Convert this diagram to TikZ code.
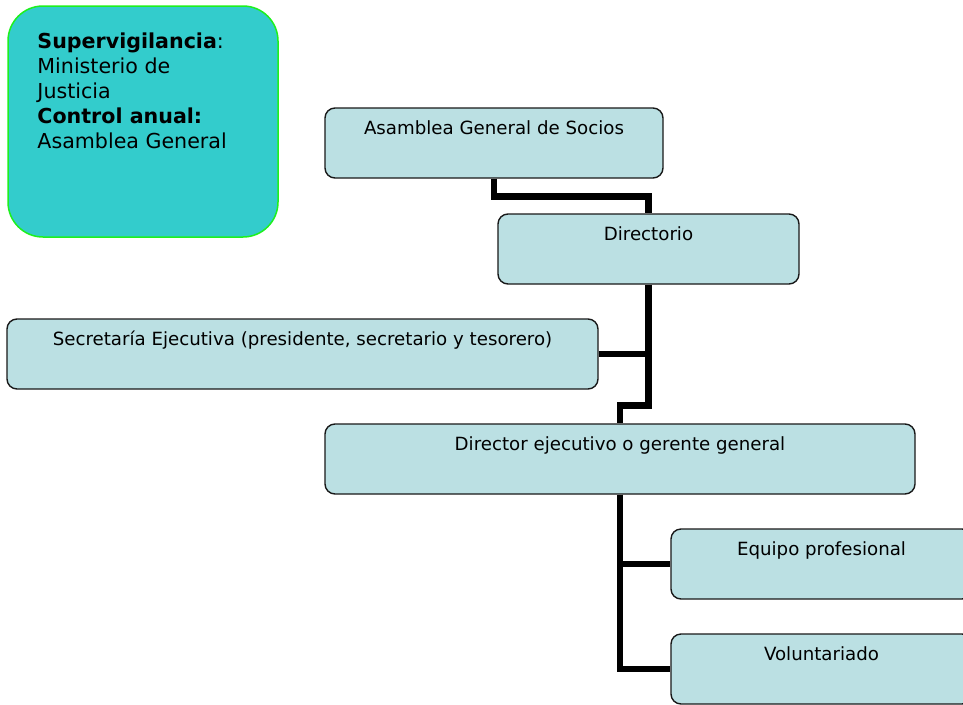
\documentclass[tikz,border=0pt]{standalone}
\usepackage{fontspec}
\setmainfont{DejaVu Sans}
\definecolor{boxfill}{RGB}{187,224,227}
\definecolor{notefill}{RGB}{51,204,204}
\definecolor{noteline}{RGB}{30,240,30}
\begin{document}
\begin{tikzpicture}[x=1pt,y=-1pt,
  orgbox/.style={draw=black!90, line width=1.4pt, fill=boxfill, rounded corners=10pt,
    inner sep=0pt, minimum height=70pt},
  txt/.style={anchor=base, yshift=-27pt, inner sep=0pt, font=\fontsize{18.2}{21}\selectfont},
  conn/.style={draw=black, line width=6.5pt}]
\clip (0,0) rectangle (963,704);
\fill[white] (0,0) rectangle (963,704);

\node[draw=noteline, line width=1.5pt, fill=notefill, rounded corners=35pt,
  minimum width=270pt, minimum height=231pt, inner sep=0pt,
  label={[anchor=north west, align=left, inner sep=0pt, xshift=30pt, yshift=-27pt,
    font=\fontsize{20.6}{25.2}\selectfont]north west:{\textbf{Supervigilancia}:\\Ministerio de\\Justicia\\\textbf{Control anual:}\\Asamblea General}}]
  (note) at (143,121.5) {};

\node[orgbox, minimum width=338pt, label={[txt]north:Asamblea General de Socios}] (asam) at (494,143) {};
\node[orgbox, minimum width=301pt, label={[txt]north:Directorio}] (dir) at (648.5,249) {};
\node[orgbox, minimum width=591pt, label={[txt]north:Secretaría Ejecutiva (presidente, secretario y tesorero)}] (sec) at (302.5,354) {};
\node[orgbox, minimum width=590pt, label={[txt]north:Director ejecutivo o gerente general}] (ded) at (620,459) {};
\node[orgbox, minimum width=301pt, label={[txt]north:Equipo profesional}] (eq) at (821.5,564) {};
\node[orgbox, minimum width=301pt, label={[txt]north:Voluntariado}] (vol) at (821.5,669) {};

\draw[conn] (asam.south) -- ++(0,18) -| (dir.north);
\draw[conn] (dir.south) -- ++(0,121) -| (ded.north);
\draw[conn] (sec.east) -- (sec.east -| dir.south);
\draw[conn] (ded.south) |- (eq.west);
\draw[conn] (ded.south) |- (vol.west);
\end{tikzpicture}
\end{document}
